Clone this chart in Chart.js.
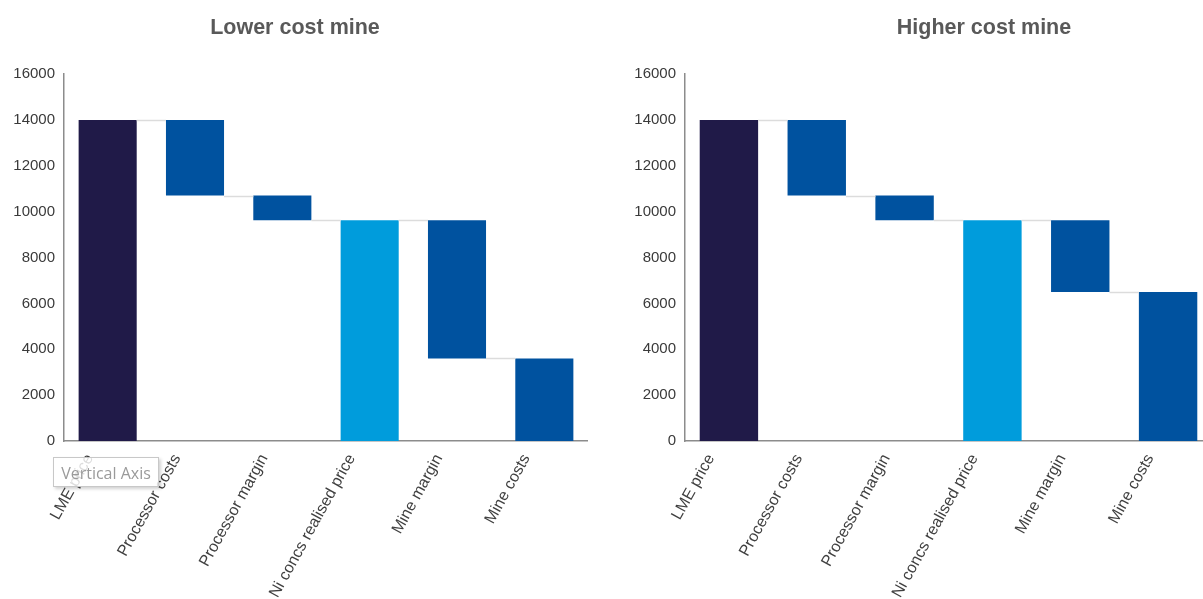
<!DOCTYPE html>
<html>
<head>
<meta charset="utf-8">
<script src="https://cdn.jsdelivr.net/npm/chart.js@4"></script>
<style>
  html, body { margin: 0; padding: 0; background: #fff; overflow: hidden; }
  body { width: 1203px; height: 599px; position: relative; }
  .box { position: absolute; top: 0; height: 599px; }
  .title {
    position: absolute; top: 15px; font: bold 21.5px "Liberation Sans", Arial, sans-serif;
    color: #595959; white-space: nowrap; transform: translateX(-50%);
  }
  .hover-tip {
    position: absolute; left: 53px; top: 457px; width: 106px; height: 30px;
    border: 1px solid #c8c8c8; background: rgba(255,255,255,0.82);
    box-shadow: 2px 2px 3px rgba(0,0,0,0.18);
    font: 16px "Open Sans", "Noto Sans", sans-serif; color: #9a9a9a;
    line-height: 30px; text-align: center; box-sizing: border-box;
  }
</style>
</head>
<body>
<div class="box" style="left:0;width:588px"><canvas id="lowerChart"></canvas></div>
<div class="box" style="left:621px;width:591px"><canvas id="higherChart"></canvas></div>
<div class="title" style="left:295px">Lower cost mine</div>
<div class="title" style="left:984px">Higher cost mine</div>
<div class="hover-tip">Vertical Axis</div>
<script>
const categories = ['LME price', 'Processor costs', 'Processor margin', 'Ni concs realised price', 'Mine margin', 'Mine costs'];

// waterfall bars: top and base of each floating bar
const lowerTops  = [14000, 14000, 10700, 9620, 9620, 3600];
const lowerBases = [0, 10700, 9620, 0, 3600, 0];
const higherTops  = [14000, 14000, 10700, 9620, 9620, 6500];
const higherBases = [0, 10700, 9620, 0, 6500, 0];

const yTicks = [0, 2000, 4000, 6000, 8000, 10000, 12000, 14000, 16000];
const barColors = ['#201a48', '#00529f', '#00529f', '#009cdc', '#00529f', '#00529f'];

const fontFamily = '"Liberation Sans", Arial, sans-serif';

// thin grey step lines between neighbouring bars
const connectorPlugin = {
  id: 'connectors',
  afterDatasetsDraw(chart) {
    const ctx = chart.ctx;
    const meta = chart.getDatasetMeta(0);
    const tops = chart.data.datasets[0].tops;
    const y = chart.scales.y;
    ctx.save();
    ctx.strokeStyle = '#dcdcdc';
    ctx.lineWidth = 1.5;
    for (let i = 0; i < meta.data.length - 1; i++) {
      const a = meta.data[i], b = meta.data[i + 1];
      const py = Math.round(y.getPixelForValue(tops[i + 1])) + 0.5;
      ctx.beginPath();
      ctx.moveTo(a.x + a.width / 2, py);
      ctx.lineTo(b.x - b.width / 2, py);
      ctx.stroke();
    }
    ctx.restore();
  }
};

function makeChart(id, tops, bases) {
  const ctx = document.getElementById(id).getContext('2d');
  return new Chart(ctx, {
    type: 'bar',
    data: {
      labels: categories,
      datasets: [{
        data: tops.map((t, i) => [bases[i], t]),
        tops: tops,
        backgroundColor: barColors,
        borderWidth: 0,
        categoryPercentage: 1,
        barPercentage: 0.665
      }]
    },
    options: {
      responsive: true,
      maintainAspectRatio: false,
      animation: false,
      layout: { padding: { top: 74, right: 0, left: 0, bottom: 0 } },
      plugins: {
        legend: { display: false },
        tooltip: { enabled: false },
        title: { display: false }
      },
      scales: {
        x: {
          grid: { display: false, drawTicks: false },
          border: { color: '#8c8c8c', width: 1.5 },
          ticks: {
            color: '#404040',
            font: { family: fontFamily, size: 16 },
            minRotation: 61,
            maxRotation: 61,
            padding: 10,
            labelOffset: -18,
            autoSkip: false
          },
          afterFit(scale) { scale.height = 158; }
        },
        y: {
          min: 0,
          max: 16000,
          grid: { display: false, drawTicks: false },
          border: { color: '#8c8c8c', width: 1.5 },
          afterBuildTicks(scale) { scale.ticks = yTicks.map(v => ({ value: v })); },
          ticks: {
            color: '#3a3a3a',
            font: { family: fontFamily, size: 15 },
            padding: 9,
            callback: v => String(v)
          },
          afterFit(scale) { scale.width = 64; }
        }
      }
    },
    plugins: [connectorPlugin]
  });
}

document.addEventListener('DOMContentLoaded', function () {
  makeChart('lowerChart', lowerTops, lowerBases);
  makeChart('higherChart', higherTops, higherBases);
});
</script>
</body>
</html>
